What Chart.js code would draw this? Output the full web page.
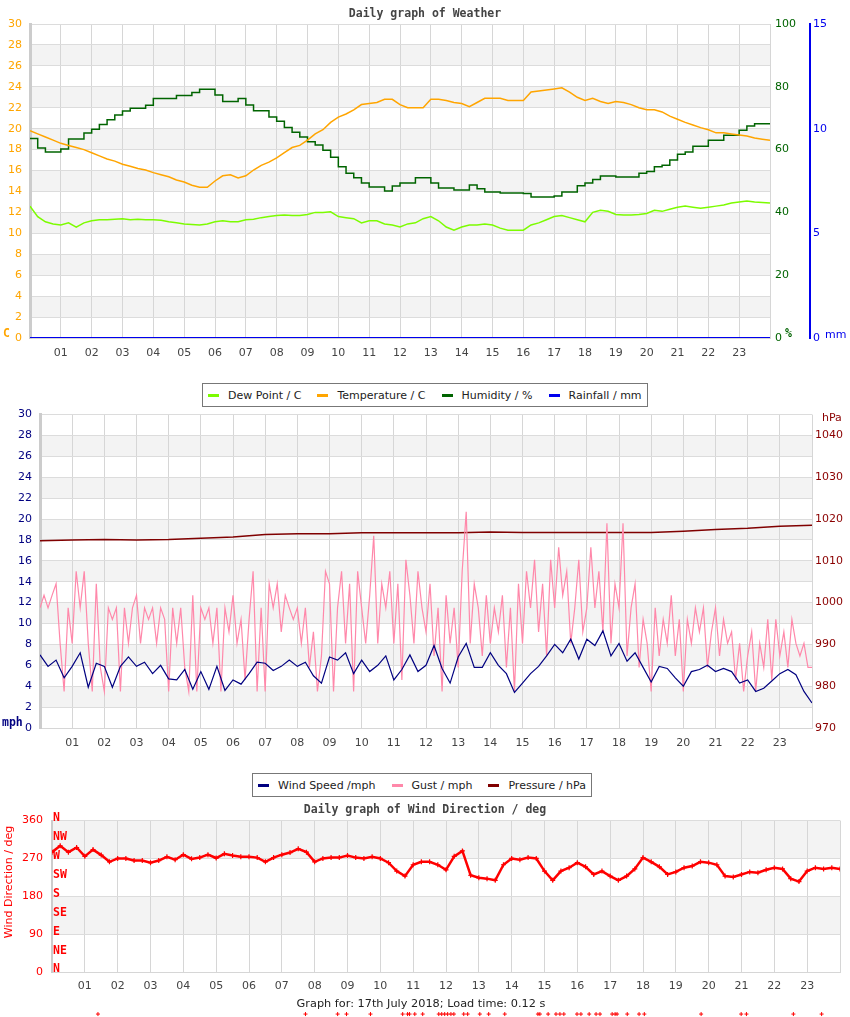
<!DOCTYPE html>
<html>
<head>
<meta charset="utf-8">
<title>Daily graph of Weather</title>
<script src="https://cdn.jsdelivr.net/npm/chart.js@4/dist/chart.umd.min.js"></script>
<style>
body { margin: 0; background: #fff; font-family: "DejaVu Sans", sans-serif; }
#page { position: relative; width: 850px; height: 1017px; overflow: hidden; }
canvas { position: absolute; left: 0; }
.txt { position: absolute; white-space: nowrap; line-height: 14px; z-index: 3; }
.mono { font-family: "DejaVu Sans Mono", monospace; font-weight: bold; font-size: 11.5px; }
.title { left: 0; width: 850px; text-align: center; color: #444; }
.legend { position: absolute; display: flex; align-items: center; height: 24px; box-sizing: border-box;
          border: 1px solid #777; background: #fff; font-size: 11px; color: #222; padding-right: 5px; z-index: 4; }
.legend .sw { width: 11px; height: 3px; flex: none; }
.legend .tx { margin-left: 9px; }
</style>
</head>
<body>
<div id="page">
  <canvas id="weather" width="850" height="372" style="top:0"></canvas>
  <canvas id="wind" width="850" height="360" style="top:400px"></canvas>
  <canvas id="direction" width="850" height="212" style="top:805px"></canvas>

  <div class="txt mono title" style="top:6px">Daily graph of Weather</div>
  <div class="txt mono" style="left:3px;top:326px;color:#ffa500">C</div>
  <div class="txt mono" style="left:785px;top:326px;color:#006400">%</div>
  <div class="txt" style="left:825px;top:328px;font-size:11px;color:#0000ee">mm</div>
  <div class="legend" id="legend1" style="left:202px;top:383px"></div>

  <div class="txt mono" style="left:2px;top:715px;color:#000080">mph</div>
  <div class="txt" style="left:822px;top:411px;font-size:11px;color:#8b0000">hPa</div>
  <div class="legend" id="legend2" style="left:252px;top:773px"></div>

  <div class="txt mono title" style="top:802px">Daily graph of Wind Direction / deg</div>
  <div class="txt" style="left:9px;top:882px;font-size:11px;color:#ff0000;transform:translate(-50%,-50%) rotate(-90deg)">Wind Direction / deg</div>
  <div class="txt" style="left:0;width:842px;text-align:center;top:997px;font-size:11.3px;color:#222">Graph for: 17th July 2018; Load time: 0.12 s</div>
</div>

<script>
// time base (hours of the day)
const quarterHours = Array.from({ length: 97 }, (_, i) => i / 4);
const eighthHours = Array.from({ length: 193 }, (_, i) => i / 8);
const wholeHours = Array.from({ length: 25 }, (_, i) => i);

// ---- weather panel (every 15 min) ----
const temperature = [
  19.8, 19.5, 19.2, 18.9, 18.6, 18.4, 18.2, 18.0,
  17.7, 17.4, 17.1, 16.9, 16.6, 16.4, 16.2, 16.05,
  15.8, 15.6, 15.4, 15.1, 14.9, 14.6, 14.4, 14.4,
  15.0, 15.5, 15.6, 15.3, 15.5, 16.05, 16.5, 16.8,
  17.2, 17.7, 18.2, 18.4, 18.9, 19.5, 19.9, 20.6,
  21.1, 21.4, 21.8, 22.3, 22.4, 22.5, 22.8, 22.8,
  22.3, 22.0, 22.0, 22.0, 22.8, 22.8, 22.7, 22.5,
  22.4, 22.1, 22.5, 22.9, 22.9, 22.9, 22.7, 22.7,
  22.7, 23.5, 23.6, 23.7, 23.8, 23.9, 23.5, 23.0,
  22.7, 22.9, 22.6, 22.4, 22.6, 22.5, 22.3, 22.0,
  21.8, 21.8, 21.6, 21.2, 20.9, 20.6, 20.35, 20.1,
  19.9, 19.6, 19.6, 19.5, 19.4, 19.3, 19.1, 19.0,
  18.9
];
const dewPoint = [
  12.6, 11.6, 11.1, 10.9, 10.8, 11.0, 10.6, 11.0,
  11.2, 11.3, 11.3, 11.35, 11.4, 11.3, 11.35, 11.3,
  11.3, 11.25, 11.1, 11.0, 10.9, 10.85, 10.8, 10.9,
  11.1, 11.2, 11.1, 11.1, 11.3, 11.35, 11.5, 11.6,
  11.7, 11.75, 11.7, 11.7, 11.8, 12.0, 12.0, 12.05,
  11.6, 11.5, 11.4, 11.0, 11.2, 11.2, 10.9, 10.8,
  10.6, 10.9, 11.0, 11.4, 11.6, 11.2, 10.6, 10.3,
  10.6, 10.8, 10.8, 10.9, 10.8, 10.5, 10.3, 10.3,
  10.3, 10.8, 11.0, 11.3, 11.6, 11.7, 11.5, 11.3,
  11.1, 12.0, 12.2, 12.1, 11.8, 11.75, 11.75, 11.8,
  11.9, 12.2, 12.1, 12.3, 12.5, 12.6, 12.5, 12.4,
  12.5, 12.6, 12.7, 12.9, 13.0, 13.1, 13.0, 12.95,
  12.9
];
const humidity = [
  63.5, 60.5, 59.2, 59.2, 60.2, 63.4, 63.4, 65.3,
  66.5, 68, 69.5, 71, 72.3, 73.2, 73.2, 74.1,
  76.3, 76.3, 76.3, 77.2, 77.2, 78.2, 79.2, 79.2,
  77.4, 75.3, 75.3, 76.3, 74.2, 72.4, 72.4, 70.4,
  69, 67, 65.5, 64, 62.5, 61.5, 59.8, 57.6,
  54.5, 52.5, 51, 49.4, 48.1, 48.1, 46.8, 48.4,
  49.4, 49.4, 51, 51, 49.4, 47.8, 47.8, 47.1,
  47.1, 48.7, 47.5, 46.5, 46.5, 46.2, 46.2, 46.2,
  46, 44.9, 44.9, 44.9, 45.2, 46.5, 46.5, 48.5,
  49.4, 50.5, 51.6, 51.6, 51.3, 51.3, 51.3, 52.5,
  53, 54.5, 55, 56.7, 58.5, 59.2, 61.1, 61.1,
  63, 63, 64.6, 64.6, 66.2, 67.5, 68.2, 68.2,
  68.2
];
const rainHours = [0, 24];
const rainfall = [0, 0];

// ---- wind panel ----
const windSpeed = [
  7.0, 5.9, 6.5, 4.8, 5.9, 7.2, 3.9, 6.2,
  5.9, 3.9, 5.9, 6.8, 5.9, 6.3, 5.2, 6.0,
  4.7, 4.6, 5.6, 3.7, 5.4, 3.7, 5.9, 3.6,
  4.6, 4.2, 5.2, 6.3, 6.2, 5.5, 5.9, 6.5,
  5.9, 6.3, 5.0, 4.3, 6.8, 6.5, 7.2, 5.2,
  6.5, 5.4, 6.0, 6.9, 4.6, 5.6, 7.0, 5.4,
  6.0, 7.9, 5.7, 4.3, 6.8, 8.1, 5.8, 5.8,
  7.2, 6.0, 5.2, 3.4, 4.3, 5.2, 5.9, 6.9,
  8.0, 7.2, 8.5, 6.6, 8.5, 7.9, 9.3, 6.9,
  8.1, 6.4, 7.2, 5.8, 4.4, 5.9, 5.7, 4.8,
  4.0, 5.4, 5.6, 6.0, 5.4, 5.7, 5.4, 4.3,
  4.6, 3.5, 3.8, 4.5, 5.2, 5.6, 5.1, 3.5,
  2.4
];
const gust = [
  11.5, 12.7, 11.5, 12.7, 13.8, 8.1, 3.5, 11.5,
  8.1, 15.0, 11.5, 15.0, 8.1, 3.5, 13.8, 5.8,
  3.5, 11.5, 10.4, 11.5, 3.5, 11.5, 8.1, 11.5,
  12.7, 8.1, 11.5, 10.4, 11.5, 8.1, 11.5, 10.4,
  3.5, 11.5, 8.1, 11.5, 5.8, 3.5, 12.7, 3.5,
  11.5, 10.4, 11.5, 8.1, 11.5, 3.5, 11.5, 9.2,
  12.7, 8.1, 10.4, 4.6, 10.4, 15.0, 3.5, 11.5,
  3.5, 13.8, 11.5, 13.8, 9.2, 12.7, 11.5, 10.4,
  11.5, 8.1, 11.5, 5.8, 9.2, 3.5, 6.9, 15.0,
  13.8, 3.5, 11.5, 15.0, 8.1, 13.8, 3.5, 15.0,
  11.5, 8.1, 12.7, 18.4, 8.1, 13.8, 11.5, 15.0,
  8.1, 13.8, 4.6, 16.1, 12.7, 8.1, 15.0, 11.5,
  9.2, 13.8, 6.9, 11.5, 3.5, 12.7, 8.1, 11.5,
  5.8, 15.0, 20.7, 8.1, 13.8, 11.5, 6.9, 12.7,
  8.1, 11.5, 9.2, 12.7, 5.8, 11.5, 3.5, 13.8,
  8.1, 15.0, 11.5, 16.1, 9.2, 13.8, 6.9, 16.1,
  11.5, 17.3, 12.7, 15.0, 8.1, 11.5, 16.1, 9.2,
  11.5, 17.3, 11.5, 15.0, 9.2, 19.6, 8.1, 13.8,
  11.5, 19.6, 6.9, 11.5, 13.8, 5.8, 10.4, 8.1,
  3.5, 11.5, 6.9, 10.4, 8.1, 12.7, 6.9, 10.4,
  3.5, 10.4, 8.1, 11.5, 9.2, 11.5, 5.8, 9.2,
  11.5, 6.9, 10.4, 8.1, 9.2, 4.6, 8.1, 3.5,
  6.9, 9.2, 3.5, 8.1, 5.8, 10.4, 4.6, 10.4,
  6.9, 9.2, 5.8, 10.4, 8.1, 6.9, 8.1, 5.8,
  5.8
];
const pressure = [
  1014.8, 1015.0, 1015.1, 1015.0, 1015.1, 1015.4, 1015.7, 1016.3,
  1016.5, 1016.5, 1016.7, 1016.7, 1016.7, 1016.7, 1016.9, 1016.8,
  1016.8, 1016.8, 1016.8, 1016.8, 1017.1, 1017.5, 1017.8, 1018.3,
  1018.5
];

// ---- wind direction panel ----
const direction = [
  285, 300, 285, 296, 275, 291, 278, 262,
  270, 270, 265, 265, 260, 265, 274, 267,
  279, 269, 272, 279, 271, 281, 277, 274,
  274, 272, 262, 272, 279, 284, 293, 285,
  262, 270, 272, 272, 277, 272, 270, 274,
  270, 260, 240, 228, 255, 262, 262, 255,
  243, 275, 288, 230, 224, 222, 218, 255,
  270, 267, 272, 270, 240, 218, 240, 248,
  260, 250, 232, 240, 228, 218, 228, 245,
  272, 262, 250, 232, 238, 248, 252, 262,
  260, 255, 228, 226, 232, 238, 236, 243,
  248, 245, 222, 215, 240, 248, 245, 248,
  245
];
// readings logged as calm, marked below the axis
const calmHours = [1.40, 7.72, 8.70, 8.97, 9.70, 10.68, 10.83, 10.89, 11.05, 11.29,
  11.78, 11.87, 11.96, 12.05, 12.15, 12.24, 12.54, 12.66, 13.03, 13.30, 13.79,
  14.80, 14.86, 15.11, 15.35, 15.47, 15.59, 15.99, 16.11, 16.36, 16.57, 16.69,
  17.06, 17.15, 17.21, 17.52, 17.88, 18.04, 19.77, 20.99, 21.15, 22.58, 23.44];
const calmValue = -100;
const compassNames = ['N', 'NE', 'E', 'SE', 'S', 'SW', 'W', 'NW', 'N'];

function pts(xs, ys) { return ys.map((y, i) => ({ x: xs[i], y: y })); }
function fixW(w) { return s => { s.width = w; }; }
function fixH(h) { return s => { s.height = h; }; }

Chart.defaults.font.family = '"DejaVu Sans", sans-serif';
Chart.defaults.font.size = 11;

// light grey band on every other grid step
function bands(scaleId) {
  return {
    id: 'bands_' + scaleId,
    beforeDraw(chart) {
      const a = chart.chartArea, s = chart.scales[scaleId], ctx = chart.ctx;
      ctx.save();
      ctx.fillStyle = '#f3f3f3';
      for (let i = 1; i < s.ticks.length - 1; i += 2) {
        const y1 = s.getPixelForValue(s.ticks[i].value);
        const y2 = s.getPixelForValue(s.ticks[i + 1].value);
        ctx.fillRect(a.left, y2, a.right - a.left, y1 - y2);
      }
      ctx.restore();
    }
  };
}

// calm markers sit outside the chart area, so points are drawn here
const calmMarks = {
  id: 'calmMarks',
  afterDatasetsDraw(chart) {
    const ctx = chart.ctx, x = chart.scales.x, y = chart.scales.y;
    ctx.save();
    ctx.strokeStyle = '#ff0000';
    ctx.lineWidth = 1;
    calmHours.forEach(h => {
      Chart.helpers.drawPoint(ctx, { pointStyle: 'cross', radius: 2, rotation: 0, borderWidth: 1 },
        x.getPixelForValue(h), y.getPixelForValue(calmValue));
    });
    ctx.restore();
  }
};

function hourAxis(height, pad) {
  return {
    type: 'linear', min: 0, max: 24, afterFit: fixH(height),
    ticks: { stepSize: 1, autoSkip: false, maxRotation: 0, color: '#444', padding: pad,
             callback: v => (v > 0 && v < 24) ? String(v).padStart(2, '0') : '' },
    grid: { color: '#d6d6d6', drawTicks: false },
    border: { color: '#d6d6d6' }
  };
}

const common = {
  responsive: false,
  animation: false,
  plugins: { legend: { display: false }, tooltip: { enabled: false } },
  elements: { point: { radius: 0 } }
};

const weatherChart = new Chart(document.getElementById('weather'), {
  type: 'line',
  data: {
    datasets: [
      { label: 'Dew Point / C', data: pts(quarterHours, dewPoint), borderColor: '#7cfc00', borderWidth: 1.5, yAxisID: 'y' },
      { label: 'Temperature / C', data: pts(quarterHours, temperature), borderColor: '#ffa500', borderWidth: 1.5, yAxisID: 'y' },
      { label: 'Humidity / %', data: pts(quarterHours, humidity), borderColor: '#006400', borderWidth: 1.5, stepped: true, yAxisID: 'hum' },
      { label: 'Rainfall / mm', data: pts(rainHours, rainfall), borderColor: '#0000ee', borderWidth: 2, yAxisID: 'rain' }
    ]
  },
  options: Object.assign({}, common, {
    layout: { padding: { top: 24, left: 0, right: 0, bottom: 0 } },
    scales: {
      x: hourAxis(34, 9),
      y: {
        position: 'left', min: 0, max: 30, weight: 1, afterFit: fixW(30),
        ticks: { stepSize: 2, color: '#ffa500', padding: 8 },
        grid: { color: '#dcdcdc', drawTicks: false },
        border: { color: '#cccccc', width: 3 }
      },
      hum: {
        position: 'right', min: 0, max: 100, weight: 1, afterFit: fixW(40),
        ticks: { stepSize: 20, color: '#006400', padding: 5 },
        grid: { drawOnChartArea: false, drawTicks: false },
        border: { display: false }
      },
      rain: {
        position: 'right', min: 0, max: 15, weight: 2, afterFit: fixW(40),
        ticks: { stepSize: 5, color: '#0000ee', padding: 3 },
        grid: { drawOnChartArea: false, drawTicks: false },
        border: { color: '#0000ee', width: 2 }
      }
    }
  }),
  plugins: [bands('y')]
});

const windChart = new Chart(document.getElementById('wind'), {
  type: 'line',
  data: {
    datasets: [
      { label: 'Wind Speed /mph', data: pts(quarterHours, windSpeed), borderColor: '#000080', borderWidth: 1.2, yAxisID: 'y' },
      { label: 'Gust / mph', data: pts(eighthHours, gust), borderColor: '#ff88aa', borderWidth: 1.2, yAxisID: 'y' },
      { label: 'Pressure / hPa', data: pts(wholeHours, pressure), borderColor: '#800000', borderWidth: 1.5, yAxisID: 'p' }
    ]
  },
  options: Object.assign({}, common, {
    layout: { padding: { top: 14, left: 0, right: 0, bottom: 0 } },
    scales: {
      x: hourAxis(32, 9),
      y: {
        position: 'left', min: 0, max: 30, afterFit: fixW(40),
        ticks: { stepSize: 2, color: '#000080', padding: 8 },
        grid: { color: '#dcdcdc', drawTicks: false },
        border: { color: '#cccccc', width: 3 }
      },
      p: {
        position: 'right', min: 970, max: 1045, afterFit: fixW(38),
        ticks: { stepSize: 10, includeBounds: false, color: '#8b0000', padding: 3, callback: v => String(v) },
        grid: { drawOnChartArea: false, drawTicks: false },
        border: { display: false }
      }
    }
  }),
  plugins: [bands('y')]
});

const directionChart = new Chart(document.getElementById('direction'), {
  type: 'line',
  data: {
    datasets: [
      { label: 'Wind Direction / deg', data: pts(quarterHours, direction), borderColor: '#ff0000', borderWidth: 2.5,
        pointStyle: 'cross', pointRadius: 2.5, pointBorderWidth: 1.2, pointBorderColor: '#ff0000' }
    ]
  },
  options: Object.assign({}, common, {
    layout: { padding: { top: 0, left: 0, right: 10, bottom: 0 } },
    scales: {
      x: hourAxis(45, 8),
      y: {
        position: 'left', min: 0, max: 360, weight: 1, afterFit: fixW(52),
        ticks: { stepSize: 90, color: '#ff0000', padding: 9 },
        grid: { color: '#dcdcdc', drawTicks: false },
        border: { color: '#cccccc', width: 2 }
      },
      compass: {
        position: 'left', min: 0, max: 360, weight: 0, afterFit: fixW(0),
        ticks: { stepSize: 45, mirror: true, padding: 1, labelOffset: -2.5, color: '#ff0000',
                 font: { family: '"DejaVu Sans Mono", monospace', weight: 'bold', size: 11.5 },
                 callback: v => compassNames[v / 45] },
        grid: { display: false },
        border: { display: false }
      }
    }
  }),
  plugins: [bands('y'), calmMarks]
});

function htmlLegend(id, chart) {
  const box = document.getElementById(id);
  chart.data.datasets.filter(d => d.label).forEach((d, i) => {
    const sw = document.createElement('span');
    sw.className = 'sw';
    sw.style.background = d.borderColor;
    sw.style.marginLeft = i ? '16px' : '5px';
    const tx = document.createElement('span');
    tx.className = 'tx';
    tx.textContent = d.label;
    box.append(sw, tx);
  });
}
htmlLegend('legend1', weatherChart);
htmlLegend('legend2', windChart);
</script>
</body>
</html>
